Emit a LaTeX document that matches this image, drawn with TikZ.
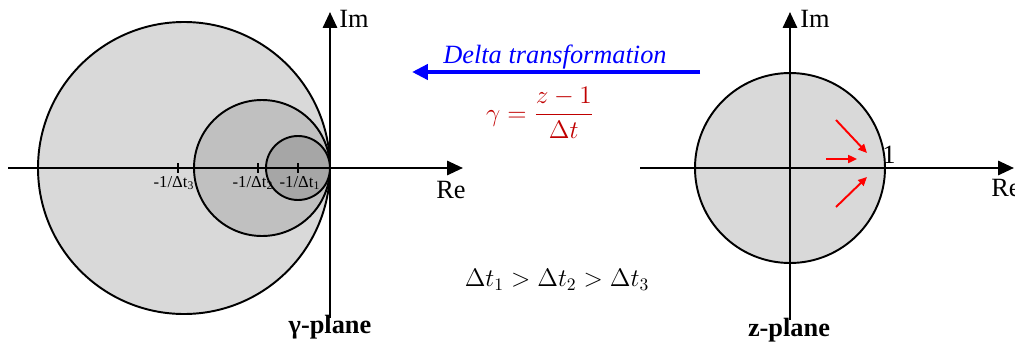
\documentclass[tikz,border=0pt]{standalone}
\usepackage{fontspec}
\setmainfont{Liberation Serif}
\usepackage{amsmath}
\usetikzlibrary{arrows.meta, positioning, calc}
\definecolor{mydark}{RGB}{0,0,0}
\definecolor{myblue}{RGB}{0,0,255}
\definecolor{myred}{RGB}{192,0,0}
\definecolor{arrred}{RGB}{255,0,0}
\definecolor{greyA}{RGB}{217,217,217}
\definecolor{greyB}{RGB}{192,192,192}
\definecolor{greyC}{RGB}{166,166,166}
\tikzset{
  axis/.style={-{Triangle[length=9pt, width=8pt]}, line width=1.4pt, color=mydark},
  circ/.style={draw=mydark, line width=1.1pt},
  tickmark/.style={line width=1pt, color=mydark},
  lbl/.style={font=\fontsize{15}{18}\selectfont, inner sep=0pt},
  ticklbl/.style={font=\fontsize{9.5}{11}\selectfont, inner sep=0pt},
  planelbl/.style={font=\fontsize{15}{18}\selectfont\bfseries, inner sep=0pt},
  bluearrow/.style={-{Triangle[length=9pt, width=8.5pt]}, line width=2.3pt, color=myblue},
  redarrow/.style={-{Triangle[length=5pt, width=4.5pt]}, line width=1.1pt, color=arrred}
}
\begin{document}
\begin{tikzpicture}[x=0.02cm, y=-0.02cm]
  \useasboundingbox (0,0) rectangle (1015,345);

  % gamma plane
  \draw[circ, fill=greyA] (184,168) circle (146);
  \draw[circ, fill=greyB] (262,168) circle (68);
  \draw[circ, fill=greyC] (298,168) circle (32);
  \coordinate (gW) at (8,168);
  \coordinate (gE) at (463,168);
  \coordinate (gS) at (330,318);
  \coordinate (gN) at (330,12);
  \draw[axis] (gW) -- (gE);
  \draw[axis] (gS) -- (gN);
  \foreach \x/\xl/\lab in {178/174/3, 258/253/2, 298/300/1} {
    \draw[tickmark] (\x,163) -- (\x,173);
    \node[ticklbl] at (\xl,183) {-1/Δt\textsubscript{\lab}};
  }
  \node[lbl] (gim) at (354,19) {Im};
  \node[lbl] (gre) at (451,190) {Re};
  \node[planelbl] (gplane) at (330,327) {γ-plane};

  % transformation
  \coordinate (tstart) at (700,72);
  \coordinate (tend) at (412,72);
  \draw[bluearrow] (tstart) -- (tend);
  \node[lbl, text=myblue, font=\fontsize{15}{18}\selectfont\itshape] (tname) at (555,57) {Delta transformation};
  \node[lbl, text=myred] (tform) at (540,113) {$\gamma=\dfrac{z-1}{\Delta t}$};
  \node[lbl, font=\fontsize{14}{17}\selectfont] (order) at (557,280) {$\Delta t_1>\Delta t_2>\Delta t_3$};

  % z plane
  \draw[circ, fill=greyA] (790,168) circle (95);
  \coordinate (zW) at (640,168);
  \coordinate (zE) at (1014,168);
  \coordinate (zS) at (790,320);
  \coordinate (zN) at (790,12);
  \draw[axis] (zW) -- (zE);
  \draw[axis] (zS) -- (zN);
  \node[lbl] (zim) at (815,19) {Im};
  \node[lbl] (zre) at (1006,188) {Re};
  \node[lbl] (zone) at (889,155) {1};
  \node[planelbl] (zplane) at (789,330) {z-plane};
  \coordinate (ra) at (836,120);
  \coordinate (rb) at (867,153);
  \coordinate (rc) at (826,159);
  \coordinate (rd) at (857,159);
  \coordinate (re) at (836,207);
  \coordinate (rf) at (867,177);
  \draw[redarrow] (ra) -- (rb);
  \draw[redarrow] (rc) -- (rd);
  \draw[redarrow] (re) -- (rf);
\end{tikzpicture}
\end{document}
